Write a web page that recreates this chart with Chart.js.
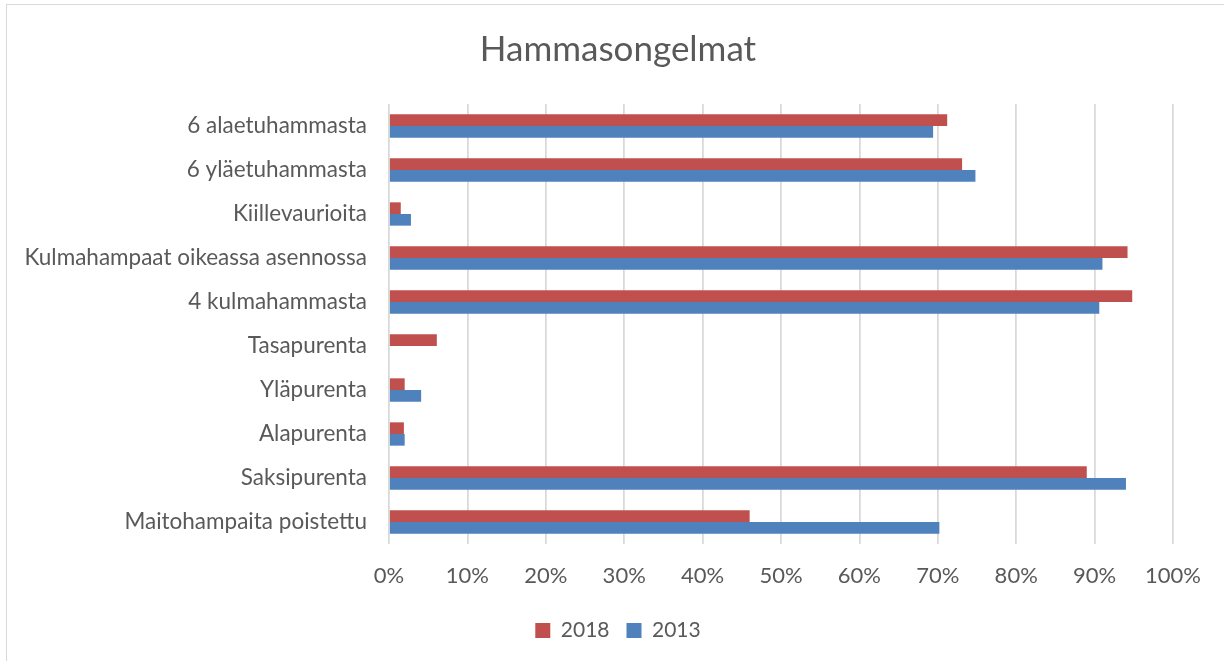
<!DOCTYPE html>
<html>
<head>
<meta charset="utf-8">
<script src="https://cdn.jsdelivr.net/npm/chart.js@4/dist/chart.umd.min.js"></script>
<style>
  html, body { margin: 0; padding: 0; background: #fff; overflow: hidden; }
  #frame { position: absolute; left: 6px; top: 4px; width: 1240px; height: 680px; border: 1.5px solid #d9d9d9; box-sizing: border-box; }
  #wrap { position: absolute; left: 0; top: 0; width: 1224px; height: 661px; }
</style>
</head>
<body>
<div id="frame"></div>
<div id="wrap"><canvas id="c" width="1224" height="661"></canvas></div>
<script>
const categories = [
  "6 alaetuhammasta",
  "6 yläetuhammasta",
  "Kiillevaurioita",
  "Kulmahampaat oikeassa asennossa",
  "4 kulmahammasta",
  "Tasapurenta",
  "Yläpurenta",
  "Alapurenta",
  "Saksipurenta",
  "Maitohampaita poistettu"
];
const values2018 = [71.2, 73.1, 1.5, 94.2, 94.8, 6.1, 2.0, 1.9, 89.0, 46.0];
const values2013 = [69.4, 74.8, 2.8, 91.0, 90.6, 0, 4.1, 2.0, 94.0, 70.2];
const seriesNames = ["2018", "2013"];
const xTicks = [0, 10, 20, 30, 40, 50, 60, 70, 80, 90, 100];

const textColor = "#595959";
const fontFamily = "Lato, 'Open Sans', sans-serif";

// Center title and legend over the whole frame (not just the padded area)
const recenterBoxes = {
  id: "recenterBoxes",
  afterLayout(chart) {
    if (chart.titleBlock) { chart.titleBlock.left = 12; chart.titleBlock.right = 1224; }
    if (chart.legend) { chart.legend.left = 12; chart.legend.right = 1224; }
  }
};

new Chart(document.getElementById("c"), {
  type: "bar",
  data: {
    labels: categories,
    datasets: [
      { label: seriesNames[0], data: values2018, backgroundColor: "#C0504D", borderWidth: 0 },
      { label: seriesNames[1], data: values2013, backgroundColor: "#4F81BD", borderWidth: 0 }
    ]
  },
  plugins: [recenterBoxes],
  options: {
    indexAxis: "y",
    responsive: false,
    animation: false,
    devicePixelRatio: 1,
    datasets: { bar: { categoryPercentage: 0.53, barPercentage: 1.0 } },
    layout: { padding: { left: 0, right: 51, top: 0, bottom: 10 } },
    plugins: {
      title: {
        display: true,
        text: "Hammasongelmat",
        color: textColor,
        font: { family: fontFamily, size: 35, weight: "normal" },
        padding: { top: 29, bottom: 33 }
      },
      legend: {
        position: "bottom",
        labels: {
          color: textColor,
          font: { family: fontFamily, size: 21 },
          boxWidth: 15,
          boxHeight: 15,
          padding: 17
        }
      },
      tooltip: { enabled: false }
    },
    scales: {
      x: {
        min: 0,
        max: 100,
        afterBuildTicks: (scale) => { scale.ticks = xTicks.map(v => ({ value: v })); },
        ticks: {
          color: textColor,
          font: { family: fontFamily, size: 22 },
          padding: 19,
          callback: (v) => v + "%"
        },
        grid: { color: "#d9d9d9", lineWidth: 1.75, drawTicks: false },
        border: { display: false },
        afterFit: (scale) => { scale.height = 59; }
      },
      y: {
        ticks: {
          color: textColor,
          font: { family: fontFamily, size: 22.5 },
          padding: 22
        },
        grid: { display: false, drawTicks: false },
        border: { display: false },
        afterFit: (scale) => { scale.width = 389; }
      }
    }
  }
});
</script>
</body>
</html>
